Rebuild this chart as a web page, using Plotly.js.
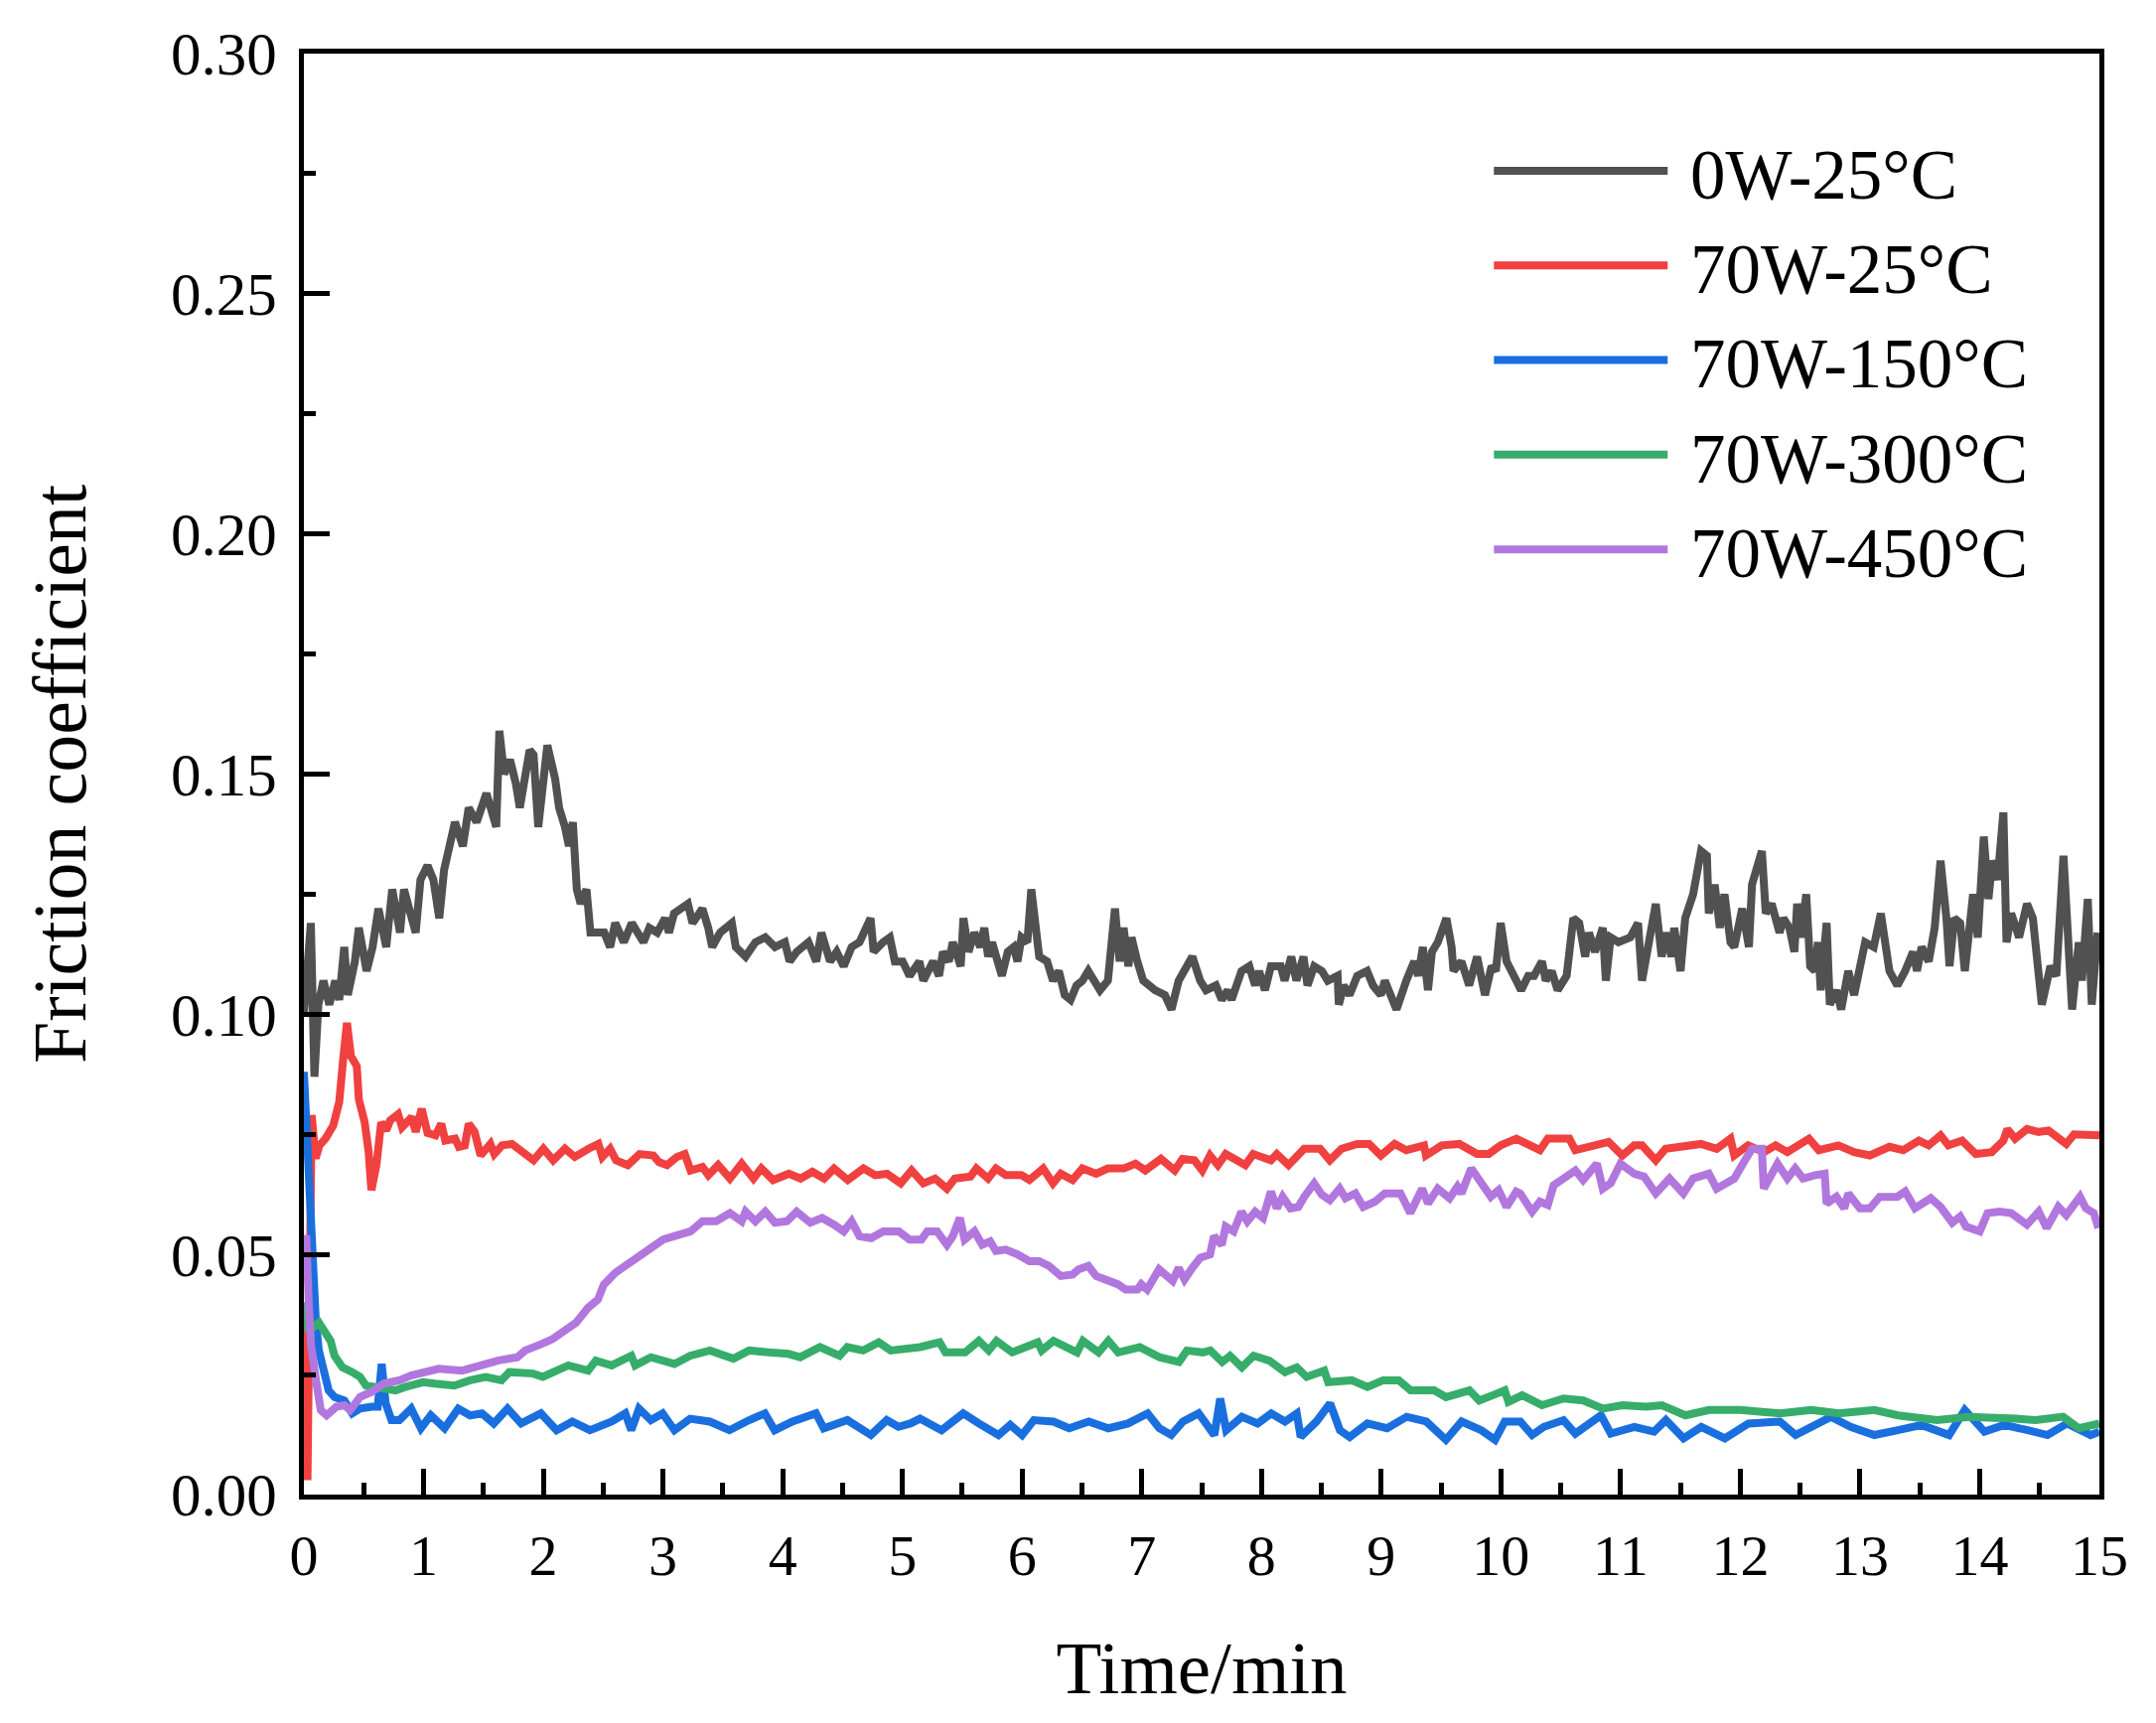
<!DOCTYPE html>
<html>
<head>
<meta charset="utf-8">
<script src="https://cdn.plot.ly/plotly-3.0.1.min.js"></script>
<style>html,body{margin:0;padding:0;background:#fff;}#chart{width:2171px;height:1735px;}</style>
</head>
<body>
<div id="chart"></div>
<script>
// Series names and colours
const seriesNames = ['0W-25°C', '70W-25°C', '70W-150°C', '70W-300°C', '70W-450°C'];
const seriesColors = ['#515151', '#F14040', '#1A6FDF', '#37AD6B', '#B177DE'];

// [time (min), friction coefficient]
const gray0W25 = [
[0.00,0.100],[0.058,0.119],[0.088,0.087],[0.121,0.102],[0.163,0.107],[0.213,0.102],[0.262,0.107],[0.295,0.103],[0.337,0.114],[0.367,0.104],
[0.426,0.111],[0.459,0.118],[0.524,0.109],[0.574,0.114],[0.623,0.122],[0.688,0.114],[0.738,0.126],[0.803,0.117],[0.836,0.126],[0.934,0.117],
[0.974,0.128],[1.033,0.131],[1.082,0.128],[1.131,0.120],[1.171,0.130],[1.262,0.140],[1.328,0.135],[1.377,0.143],[1.443,0.140],[1.525,0.146],
[1.607,0.139],[1.633,0.159],[1.673,0.150],[1.722,0.153],[1.771,0.148],[1.804,0.143],[1.886,0.155],[1.919,0.154],[1.958,0.139],[2.001,0.150],
[2.034,0.156],[2.099,0.149],[2.132,0.143],[2.181,0.139],[2.214,0.135],[2.247,0.140],[2.280,0.126],[2.312,0.123],[2.361,0.126],[2.394,0.117],
[2.509,0.117],[2.558,0.114],[2.601,0.119],[2.673,0.115],[2.739,0.119],[2.837,0.115],[2.886,0.118],[2.952,0.117],[3.017,0.120],[3.050,0.117],
[3.093,0.121],[3.149,0.122],[3.208,0.123],[3.247,0.119],[3.329,0.122],[3.378,0.118],[3.411,0.114],[3.477,0.117],[3.575,0.119],[3.608,0.114],
[3.690,0.112],[3.772,0.115],[3.854,0.116],[3.936,0.114],[4.018,0.115],[4.058,0.111],[4.117,0.113],[4.215,0.115],[4.281,0.111],[4.323,0.117],
[4.396,0.111],[4.451,0.113],[4.510,0.110],[4.576,0.114],[4.642,0.115],[4.734,0.120],[4.760,0.113],[4.839,0.115],[4.895,0.116],[4.937,0.111],
[5.002,0.111],[5.060,0.108],[5.142,0.111],[5.175,0.107],[5.257,0.111],[5.306,0.108],[5.339,0.113],[5.388,0.111],[5.421,0.115],[5.487,0.110],
[5.510,0.120],[5.552,0.113],[5.602,0.117],[5.651,0.114],[5.684,0.118],[5.716,0.112],[5.749,0.115],[5.831,0.108],[5.880,0.113],[5.930,0.114],
[5.962,0.111],[5.995,0.116],[6.044,0.115],[6.077,0.126],[6.143,0.112],[6.209,0.111],[6.258,0.107],[6.307,0.109],[6.356,0.104],[6.405,0.103],
[6.455,0.106],[6.504,0.107],[6.553,0.109],[6.602,0.107],[6.651,0.105],[6.717,0.107],[6.776,0.122],[6.815,0.111],[6.848,0.118],[6.888,0.110],
[6.914,0.116],[6.963,0.111],[7.012,0.107],[7.111,0.105],[7.193,0.104],[7.248,0.101],[7.308,0.107],[7.422,0.112],[7.488,0.107],[7.537,0.105],
[7.619,0.106],[7.668,0.103],[7.718,0.105],[7.750,0.103],[7.800,0.106],[7.833,0.109],[7.898,0.110],[7.947,0.106],[7.980,0.109],[8.029,0.105],
[8.079,0.110],[8.161,0.110],[8.193,0.107],[8.249,0.112],[8.292,0.107],[8.351,0.112],[8.384,0.106],[8.440,0.110],[8.505,0.109],[8.554,0.107],
[8.636,0.108],[8.646,0.102],[8.686,0.106],[8.735,0.104],[8.800,0.108],[8.882,0.109],[8.932,0.106],[8.997,0.104],[9.030,0.107],[9.128,0.101],
[9.210,0.107],[9.276,0.111],[9.309,0.108],[9.348,0.114],[9.391,0.105],[9.424,0.113],[9.473,0.115],[9.545,0.120],[9.588,0.114],[9.604,0.109],
[9.670,0.111],[9.735,0.106],[9.801,0.112],[9.867,0.104],[9.922,0.110],[9.958,0.109],[9.998,0.119],[10.047,0.111],[10.129,0.107],[10.169,0.105],
[10.228,0.108],[10.277,0.108],[10.343,0.111],[10.375,0.107],[10.425,0.109],[10.474,0.105],[10.549,0.108],[10.605,0.120],[10.654,0.119],[10.704,0.112],
[10.736,0.117],[10.786,0.113],[10.851,0.118],[10.877,0.107],[10.917,0.116],[10.982,0.115],[11.081,0.116],[11.146,0.119],[11.179,0.107],[11.229,0.114],
[11.294,0.123],[11.343,0.112],[11.376,0.117],[11.425,0.112],[11.448,0.118],[11.501,0.109],[11.540,0.120],[11.606,0.125],[11.672,0.134],[11.721,0.133],
[11.737,0.121],[11.786,0.127],[11.829,0.118],[11.868,0.125],[11.918,0.115],[11.950,0.114],[12.016,0.122],[12.072,0.114],[12.098,0.127],[12.180,0.134],
[12.213,0.121],[12.262,0.123],[12.328,0.117],[12.360,0.120],[12.410,0.118],[12.452,0.113],[12.475,0.123],[12.508,0.116],[12.551,0.125],[12.584,0.110],
[12.623,0.109],[12.649,0.115],[12.672,0.105],[12.721,0.119],[12.748,0.102],[12.803,0.105],[12.843,0.101],[12.902,0.109],[12.951,0.104],[13.043,0.115],
[13.115,0.114],[13.174,0.121],[13.246,0.109],[13.312,0.106],[13.377,0.109],[13.443,0.113],[13.476,0.109],[13.515,0.114],[13.574,0.111],[13.624,0.118],
[13.673,0.132],[13.722,0.120],[13.748,0.110],[13.788,0.120],[13.837,0.119],[13.876,0.109],[13.902,0.116],[13.945,0.125],[13.984,0.116],[14.034,0.137],
[14.073,0.124],[14.106,0.132],[14.149,0.128],[14.198,0.142],[14.224,0.115],[14.263,0.121],[14.329,0.116],[14.395,0.123],[14.444,0.120],[14.519,0.102],
[14.591,0.110],[14.640,0.108],[14.700,0.133],[14.772,0.101],[14.828,0.115],[14.854,0.107],[14.903,0.124],[14.936,0.102],[14.985,0.117]
];

const red70W25 = [
[0.000,0.035],[0.030,0.003],[0.065,0.079],[0.098,0.070],[0.130,0.0727],[0.180,0.0741],[0.245,0.0768],[0.295,0.0817],[0.328,0.0906],[0.360,0.0982],
[0.393,0.0913],[0.442,0.0892],[0.459,0.0823],[0.508,0.0775],[0.541,0.0713],[0.564,0.0634],[0.606,0.0686],[0.646,0.0775],[0.688,0.0758],[0.721,0.0779],
[0.787,0.0792],[0.820,0.0765],[0.902,0.0786],[0.934,0.0755],[0.984,0.0803],[1.033,0.0753],[1.099,0.0748],[1.148,0.0772],[1.181,0.0737],[1.263,0.0741],
[1.295,0.0724],[1.344,0.0727],[1.377,0.0772],[1.426,0.0755],[1.476,0.0706],[1.558,0.0730],[1.591,0.0709],[1.656,0.0727],[1.738,0.0730],[1.804,0.0717],
[1.919,0.0696],[2.001,0.0720],[2.083,0.0696],[2.181,0.0720],[2.263,0.0703],[2.378,0.0720],[2.460,0.0730],[2.493,0.0703],[2.558,0.0720],[2.608,0.0696],
[2.706,0.0686],[2.804,0.0709],[2.919,0.0706],[2.968,0.0692],[3.034,0.0686],[3.117,0.0703],[3.182,0.0709],[3.231,0.0675],[3.330,0.0682],[3.379,0.0665],
[3.461,0.0686],[3.559,0.0658],[3.657,0.0689],[3.756,0.0658],[3.821,0.0679],[3.920,0.0655],[4.051,0.0668],[4.150,0.0658],[4.248,0.0672],[4.346,0.0658],
[4.429,0.0679],[4.544,0.0655],[4.675,0.0679],[4.773,0.0665],[4.871,0.0668],[4.986,0.0648],[5.077,0.0675],[5.175,0.0648],[5.273,0.0658],[5.372,0.0637],
[5.438,0.0658],[5.569,0.0662],[5.618,0.0679],[5.716,0.0658],[5.782,0.0679],[5.864,0.0665],[5.995,0.0665],[6.061,0.0655],[6.176,0.0679],[6.258,0.0648],
[6.323,0.0668],[6.422,0.0655],[6.504,0.0679],[6.619,0.0668],[6.717,0.0679],[6.848,0.0679],[6.947,0.0689],[7.029,0.0675],[7.160,0.0699],[7.275,0.0675],
[7.340,0.0699],[7.439,0.0696],[7.505,0.0675],[7.570,0.0706],[7.636,0.0686],[7.701,0.0709],[7.767,0.0699],[7.865,0.0686],[7.931,0.0709],[8.079,0.0696],
[8.128,0.0709],[8.226,0.0686],[8.357,0.0720],[8.489,0.0720],[8.571,0.0696],[8.669,0.0720],[8.800,0.0730],[8.899,0.0730],[8.997,0.0706],[9.112,0.0730],
[9.210,0.0717],[9.358,0.0727],[9.374,0.0706],[9.506,0.0727],[9.653,0.0730],[9.801,0.0709],[9.899,0.0709],[9.998,0.0727],[10.129,0.0741],[10.228,0.0727],
[10.326,0.0717],[10.392,0.0741],[10.572,0.0741],[10.622,0.0717],[10.786,0.0727],[10.900,0.0734],[11.015,0.0706],[11.114,0.0727],[11.179,0.0727],[11.294,0.0696],
[11.376,0.0720],[11.507,0.0724],[11.671,0.0730],[11.803,0.0720],[11.918,0.0741],[11.950,0.0706],[12.065,0.0727],[12.196,0.0713],[12.295,0.0727],[12.393,0.0713],
[12.574,0.0741],[12.656,0.0717],[12.820,0.0727],[12.951,0.0713],[13.082,0.0706],[13.246,0.0724],[13.361,0.0717],[13.492,0.0737],[13.574,0.0727],[13.673,0.0748],
[13.739,0.0727],[13.853,0.0737],[13.968,0.0709],[14.100,0.0713],[14.198,0.0737],[14.231,0.0761],[14.296,0.0741],[14.395,0.0761],[14.493,0.0755],[14.575,0.0758],
[14.624,0.0748],[14.723,0.0730],[14.788,0.0750],[15.000,0.0748]
];

const blue70W150 = [
[0.000,0.088],[0.015,0.080],[0.035,0.065],[0.060,0.052],[0.076,0.0458],[0.100,0.036],[0.125,0.0300],[0.174,0.0238],[0.207,0.0217],[0.256,0.0203],
[0.338,0.0196],[0.404,0.0169],[0.469,0.0179],[0.568,0.0183],[0.617,0.0183],[0.650,0.0272],[0.683,0.0190],[0.732,0.0155],[0.798,0.0155],[0.896,0.0179],
[0.978,0.0138],[1.060,0.0165],[1.175,0.0138],[1.290,0.0179],[1.389,0.0165],[1.487,0.0169],[1.586,0.0148],[1.701,0.0179],[1.815,0.0148],[1.980,0.0169],
[2.111,0.0134],[2.242,0.0152],[2.390,0.0134],[2.571,0.0152],[2.685,0.0169],[2.735,0.0134],[2.800,0.0179],[2.899,0.0155],[2.997,0.0169],[3.096,0.0134],
[3.227,0.0158],[3.391,0.0152],[3.555,0.0134],[3.720,0.0155],[3.851,0.0169],[3.933,0.0134],[4.081,0.0152],[4.278,0.0169],[4.343,0.0138],[4.540,0.0155],
[4.737,0.0124],[4.869,0.0155],[4.967,0.0141],[5.066,0.0148],[5.147,0.0158],[5.327,0.0134],[5.508,0.0169],[5.639,0.0148],[5.803,0.0124],[5.901,0.0145],
[6.000,0.0124],[6.098,0.0155],[6.262,0.0152],[6.393,0.0138],[6.557,0.0152],[6.721,0.0138],[6.885,0.0148],[7.049,0.0169],[7.147,0.0138],[7.246,0.0124],
[7.344,0.0152],[7.475,0.0169],[7.606,0.0124],[7.655,0.0200],[7.705,0.0134],[7.836,0.0162],[7.967,0.0148],[8.082,0.0169],[8.196,0.0152],[8.295,0.0169],
[8.327,0.0120],[8.459,0.0152],[8.573,0.0190],[8.655,0.0134],[8.737,0.0120],[8.885,0.0148],[9.049,0.0138],[9.213,0.0162],[9.377,0.0152],[9.541,0.0114],
[9.672,0.0152],[9.836,0.0134],[9.951,0.0114],[10.032,0.0152],[10.162,0.0152],[10.261,0.0124],[10.359,0.0141],[10.523,0.0155],[10.622,0.0127],[10.836,0.0165],
[10.918,0.0127],[11.115,0.0141],[11.279,0.0131],[11.378,0.0155],[11.526,0.0117],[11.674,0.0141],[11.871,0.0117],[12.068,0.0148],[12.331,0.0152],[12.462,0.0124],
[12.758,0.0162],[12.922,0.0141],[13.120,0.0124],[13.317,0.0134],[13.514,0.0145],[13.744,0.0124],[13.875,0.0176],[14.040,0.0131],[14.204,0.0145],[14.401,0.0134],
[14.566,0.0124],[14.730,0.0148],[14.927,0.0124],[15.000,0.0131]
];

const green70W300 = [
[0.000,0.040],[0.040,0.034],[0.125,0.0358],[0.174,0.0341],[0.223,0.0320],[0.256,0.0289],[0.322,0.0265],[0.404,0.0255],[0.469,0.0245],[0.519,0.0227],
[0.634,0.0224],[0.765,0.0217],[0.847,0.0224],[0.995,0.0234],[1.093,0.0231],[1.257,0.0227],[1.389,0.0238],[1.520,0.0245],[1.651,0.0238],[1.717,0.0255],
[1.914,0.0252],[1.996,0.0245],[2.209,0.0269],[2.374,0.0258],[2.439,0.0279],[2.571,0.0269],[2.735,0.0289],[2.768,0.0269],[2.899,0.0286],[3.096,0.0272],
[3.227,0.0289],[3.391,0.0300],[3.588,0.0283],[3.720,0.0300],[3.884,0.0296],[4.048,0.0293],[4.146,0.0286],[4.311,0.0307],[4.475,0.0289],[4.540,0.0307],
[4.672,0.0300],[4.803,0.0317],[4.902,0.0300],[5.016,0.0303],[5.147,0.0307],[5.311,0.0317],[5.360,0.0296],[5.524,0.0296],[5.639,0.0320],[5.721,0.0300],
[5.787,0.0320],[5.918,0.0296],[6.131,0.0317],[6.164,0.0300],[6.262,0.0320],[6.459,0.0296],[6.508,0.0320],[6.639,0.0296],[6.721,0.0320],[6.803,0.0296],
[6.983,0.0307],[7.147,0.0286],[7.311,0.0276],[7.377,0.0300],[7.508,0.0296],[7.573,0.0300],[7.672,0.0276],[7.737,0.0289],[7.836,0.0265],[7.934,0.0289],
[8.065,0.0279],[8.196,0.0255],[8.295,0.0265],[8.377,0.0245],[8.524,0.0258],[8.557,0.0234],[8.754,0.0238],[8.885,0.0224],[9.016,0.0238],[9.147,0.0238],
[9.246,0.0217],[9.442,0.0217],[9.541,0.0203],[9.737,0.0217],[9.819,0.0196],[9.934,0.0207],[10.032,0.0217],[10.063,0.0193],[10.178,0.0207],[10.343,0.0186],
[10.523,0.0200],[10.688,0.0196],[10.852,0.0179],[11.016,0.0186],[11.214,0.0183],[11.345,0.0186],[11.542,0.0165],[11.739,0.0176],[12.002,0.0176],[12.331,0.0169],
[12.594,0.0176],[12.824,0.0169],[13.120,0.0176],[13.317,0.0165],[13.514,0.0158],[13.645,0.0155],[13.908,0.0162],[14.105,0.0158],[14.303,0.0158],[14.467,0.0155],
[14.697,0.0162],[14.829,0.0138],[14.960,0.0145],[15.000,0.0148]
];

const purple70W450 = [
[0.000,0.050],[0.020,0.054],[0.040,0.040],[0.060,0.031],[0.100,0.024],[0.141,0.0176],[0.190,0.0165],[0.272,0.0183],[0.338,0.0186],[0.387,0.0176],
[0.469,0.0203],[0.568,0.0214],[0.666,0.0231],[0.798,0.0238],[0.896,0.0248],[1.028,0.0255],[1.126,0.0262],[1.323,0.0258],[1.454,0.0269],[1.619,0.0279],
[1.783,0.0286],[1.848,0.0300],[1.980,0.0313],[2.078,0.0324],[2.177,0.0341],[2.275,0.0358],[2.374,0.0389],[2.456,0.0406],[2.505,0.0437],[2.603,0.0462],
[2.702,0.0479],[2.800,0.0496],[2.899,0.0517],[3.001,0.0531],[3.133,0.0541],[3.231,0.0548],[3.330,0.0569],[3.444,0.0569],[3.559,0.0586],[3.657,0.0569],
[3.690,0.0589],[3.772,0.0569],[3.854,0.0589],[3.936,0.0566],[4.035,0.0569],[4.117,0.0589],[4.231,0.0566],[4.330,0.0576],[4.429,0.0562],[4.510,0.0548],
[4.576,0.0569],[4.642,0.0538],[4.740,0.0534],[4.839,0.0548],[4.970,0.0548],[5.060,0.0531],[5.159,0.0531],[5.208,0.0548],[5.290,0.0548],[5.372,0.0520],
[5.421,0.0538],[5.480,0.0576],[5.520,0.0531],[5.602,0.0548],[5.667,0.0520],[5.733,0.0527],[5.782,0.0507],[5.864,0.0510],[5.962,0.0500],[6.061,0.0486],
[6.143,0.0486],[6.225,0.0476],[6.323,0.0455],[6.422,0.0458],[6.471,0.0469],[6.553,0.0476],[6.619,0.0455],[6.717,0.0448],[6.799,0.0438],[6.865,0.0427],
[6.963,0.0427],[6.996,0.0438],[7.045,0.0427],[7.144,0.0469],[7.209,0.0455],[7.258,0.0445],[7.308,0.0472],[7.357,0.0448],[7.422,0.0472],[7.488,0.0493],
[7.570,0.0500],[7.603,0.0538],[7.668,0.0520],[7.701,0.0558],[7.767,0.0548],[7.833,0.0589],[7.882,0.0569],[7.947,0.0589],[8.013,0.0576],[8.079,0.0631],
[8.128,0.0596],[8.177,0.0620],[8.243,0.0596],[8.308,0.0599],[8.357,0.0620],[8.440,0.0648],[8.505,0.0624],[8.571,0.0613],[8.653,0.0637],[8.702,0.0617],
[8.784,0.0627],[8.850,0.0599],[8.948,0.0610],[9.030,0.0627],[9.161,0.0627],[9.243,0.0586],[9.342,0.0637],[9.391,0.0606],[9.473,0.0637],[9.571,0.0617],
[9.637,0.0641],[9.670,0.0627],[9.752,0.0679],[9.817,0.0655],[9.916,0.0620],[9.981,0.0634],[10.047,0.0599],[10.129,0.0631],[10.162,0.0627],[10.261,0.0589],
[10.326,0.0610],[10.392,0.0603],[10.441,0.0644],[10.523,0.0658],[10.622,0.0675],[10.687,0.0655],[10.802,0.0689],[10.851,0.0637],[10.917,0.0648],[10.999,0.0689],
[11.114,0.0668],[11.196,0.0662],[11.294,0.0627],[11.409,0.0658],[11.524,0.0627],[11.606,0.0658],[11.737,0.0668],[11.803,0.0637],[11.950,0.0658],[12.032,0.0693],
[12.098,0.0720],[12.180,0.0720],[12.196,0.0637],[12.311,0.0689],[12.393,0.0658],[12.459,0.0679],[12.524,0.0658],[12.623,0.0665],[12.705,0.0668],[12.721,0.0606],
[12.803,0.0620],[12.869,0.0596],[12.902,0.0627],[13.000,0.0596],[13.082,0.0596],[13.164,0.0620],[13.312,0.0620],[13.377,0.0631],[13.459,0.0596],[13.591,0.0617],
[13.673,0.0599],[13.771,0.0566],[13.837,0.0579],[13.886,0.0558],[14.000,0.0548],[14.066,0.0586],[14.165,0.0589],[14.263,0.0586],[14.395,0.0562],[14.493,0.0589],
[14.559,0.0555],[14.657,0.0599],[14.723,0.0582],[14.838,0.0620],[14.887,0.0596],[14.953,0.0586],[14.992,0.0555]
];

// Axis ticks
const xTickVals = [0,1,2,3,4,5,6,7,8,9,10,11,12,13,14,15];
const yTickVals = [0.00,0.05,0.10,0.15,0.20,0.25,0.30];
const yTickText = ['0.00','0.05','0.10','0.15','0.20','0.25','0.30'];

const allSeries = [gray0W25, red70W25, blue70W150, green70W300, purple70W450];
const FONT = 'Liberation Serif, Times New Roman, serif';

const traces = allSeries.map((s, i) => ({
  type: 'scatter',
  mode: 'lines',
  name: '\u00a0' + seriesNames[i],
  x: s.map(p => p[0]),
  y: s.map(p => p[1]),
  line: {color: seriesColors[i], width: 8, shape: 'linear'},
  hoverinfo: 'x+y+name'
}));

const layout = {
  width: 2171,
  height: 1735,
  paper_bgcolor: '#ffffff',
  plot_bgcolor: '#ffffff',
  margin: {l: 306, r: 57, t: 54, b: 230},
  font: {family: FONT, color: '#000000'},
  showlegend: true,
  legend: {
    x: 0.66, y: 0.955, xanchor: 'left', yanchor: 'top',
    bgcolor: 'rgba(0,0,0,0)', borderwidth: 0,
    font: {family: FONT, size: 71, color: '#000000'},
    itemwidth: 175, tracegroupgap: 0
  },
  xaxis: {
    range: [0, 15],
    tickmode: 'array', tickvals: xTickVals, ticktext: xTickVals.map(String),
    ticks: 'inside', ticklen: 26, tickwidth: 5, tickcolor: '#000',
    minor: {ticks: 'inside', dtick: 0.5, tick0: 0, ticklen: 12, tickwidth: 5, tickcolor: '#000', showgrid: false},
    showline: true, linewidth: 5, linecolor: '#000', mirror: true,
    showgrid: false, zeroline: false,
    ticklabelstandoff: 6,
    tickfont: {family: FONT, size: 58, color: '#000'},
    title: {text: 'Time/min', font: {family: FONT, size: 75, color: '#000'}, standoff: 56}
  },
  yaxis: {
    range: [0, 0.30],
    tickmode: 'array', tickvals: yTickVals, ticktext: yTickText,
    ticks: 'inside', ticklen: 26, tickwidth: 5, tickcolor: '#000',
    minor: {ticks: 'inside', dtick: 0.025, tick0: 0, ticklen: 12, tickwidth: 5, tickcolor: '#000', showgrid: false},
    showline: true, linewidth: 5, linecolor: '#000', mirror: true,
    showgrid: false, zeroline: false,
    ticklabelstandoff: 10,
    tickfont: {family: FONT, size: 61, color: '#000'},
    title: {text: 'Friction coefficient', font: {family: FONT, size: 76, color: '#000'}, standoff: 62}
  }
};

Plotly.newPlot('chart', traces, layout, {displayModeBar: false, staticPlot: true});
</script>
</body>
</html>
